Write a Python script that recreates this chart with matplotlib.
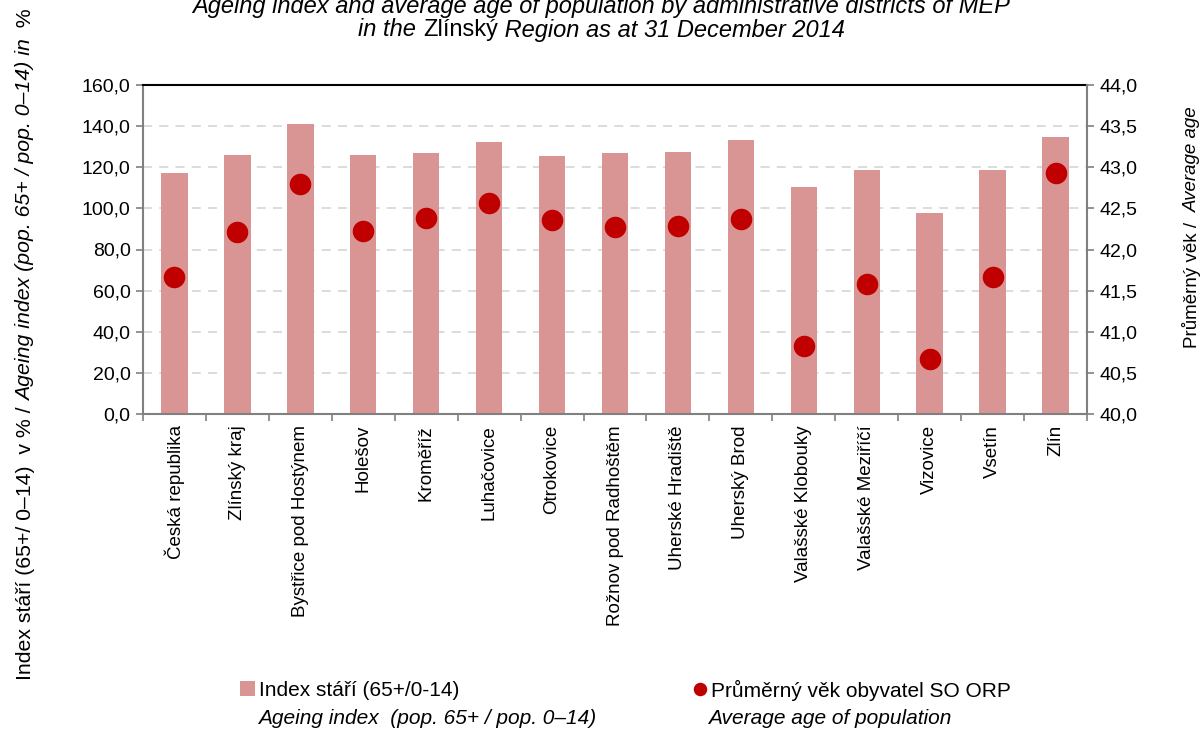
import numpy as np
import matplotlib
matplotlib.use("Agg")
import matplotlib.pyplot as plt
from matplotlib.ticker import FuncFormatter, MultipleLocator

plt.rcParams['font.family'] = ['Liberation Sans', 'DejaVu Sans']

# data
districts = ["Česká republika", "Zlínský kraj", "Bystřice pod Hostýnem", "Holešov",
             "Kroměříž", "Luhačovice", "Otrokovice", "Rožnov pod Radhoštěm",
             "Uherské Hradiště", "Uherský Brod", "Valašské Klobouky",
             "Valašské Meziříčí", "Vizovice", "Vsetín", "Zlín"]
ageing_index = [117.4, 126.1, 140.9, 126.1, 127.1, 132.1, 125.3, 127.1,
                127.2, 133.1, 110.6, 118.5, 97.8, 118.5, 134.9]
average_age = [41.67, 42.21, 42.80, 42.22, 42.38, 42.57, 42.36, 42.27,
               42.29, 42.37, 40.83, 41.58, 40.67, 41.67, 42.93]

bar_color = "#D99594"
dot_color = "#C00000"
gray = "#808080"


def comma(v, pos):
    return f"{v:.1f}".replace(".", ",")


fig = plt.figure(figsize=(12.03, 7.29), dpi=100)
ax = fig.add_axes([143/1203, 1 - 414/729, (1087-143)/1203, (414-85)/729])
ax2 = ax.twinx()

x = np.arange(len(districts))
bars = ax.bar(x, ageing_index, width=0.42, color=bar_color, zorder=2,
              label="Index stáří (65+/0-14)")
dots, = ax2.plot(x, average_age, "o", color=dot_color, markersize=14.5,
                 linestyle="none", zorder=3, label="Průměrný věk obyvatel SO ORP")

ax.set_xlim(-0.5, len(districts) - 0.5)
ax.set_ylim(0, 160)
ax.yaxis.set_major_locator(MultipleLocator(20))
ax.yaxis.set_major_formatter(FuncFormatter(comma))
ax2.set_ylim(40, 44)
ax2.yaxis.set_major_locator(MultipleLocator(0.5))
ax2.yaxis.set_major_formatter(FuncFormatter(comma))

ax.grid(axis="y", color="#D9D9D9", linestyle=(0, (5, 4)), linewidth=1.3, zorder=0)
ax.set_axisbelow(True)

ax.set_xticks(x)
ax.set_xticklabels(districts, rotation=90, fontsize=13.5)
ax.set_xticks(np.arange(-0.5, len(districts)), minor=True)
ax.tick_params(axis="x", which="major", length=0, pad=8)
ax.tick_params(axis="x", which="minor", length=5, width=1.2, color=gray)
ax.tick_params(axis="y", length=5, width=1.2, color=gray, labelsize=14, pad=4)
ax2.tick_params(axis="y", length=5, width=1.2, color=gray, labelsize=14, pad=4)

for s in ["left", "bottom"]:
    ax.spines[s].set_color(gray)
    ax.spines[s].set_linewidth(1.5)
ax.spines["top"].set_color("black")
ax.spines["top"].set_linewidth(1.5)
ax.spines["right"].set_visible(False)
for s in ["left", "bottom", "top"]:
    ax2.spines[s].set_visible(False)
ax2.spines["right"].set_color(gray)
ax2.spines["right"].set_linewidth(1.5)

fig.canvas.draw()
renderer = fig.canvas.get_renderer()


def mixed_h(pieces, yc, size):
    """horizontal line of text pieces (text, style) centred on the figure"""
    texts = [fig.text(0, yc, t, style=st, fontsize=size, va="center", ha="left")
             for t, st in pieces]
    widths = [tt.get_window_extent(renderer).width for tt in texts]
    x0 = (fig.bbox.width - sum(widths)) / 2
    for tt, w in zip(texts, widths):
        tt.set_x(x0 / fig.bbox.width)
        x0 += w


def mixed_v(pieces, xc, yc, size):
    """vertical text from pieces, centred at yc (pixels)"""
    texts = [fig.text(xc / fig.bbox.width, 0, t, style=st, fontsize=size,
                      rotation=90, rotation_mode="anchor", va="baseline", ha="left")
             for t, st in pieces]
    heights = [tt.get_window_extent(renderer).height for tt in texts]
    y0 = yc - sum(heights) / 2
    for tt, h in zip(texts, heights):
        tt.set_y(y0 / fig.bbox.height)
        y0 += h


# title
fig.text(0.5, 1 - 7/729, "Ageing index and average age of population by administrative districts of MEP",
         style="italic", fontsize=17, ha="center", va="center")
mixed_h([("in the ", "italic"), ("Zlínský", "normal"),
         (" Region as at 31 December 2014", "italic")], 1 - 30/729, 17)

# axis titles
mixed_v([("Index stáří (65+/ 0–14)  v % / ", "normal"),
         ("Ageing index (pop. 65+ / pop. 0–14) in", "italic"),
         ("  %", "normal")], 31, 729 - 344, 15.3)
mixed_v([("Průměrný věk /  ", "normal"), ("Average age", "italic")],
        1197, 729 - 227, 13.5)

# legend
leg_kw = dict(loc="center left", frameon=False, fontsize=15, handlelength=0.72,
              handleheight=0.72, handletextpad=0.2, borderaxespad=0, borderpad=0)
fig.legend(handles=[bars], bbox_to_anchor=(240/1203, 1 - 690/729), **leg_kw)
fig.legend(handles=[dots], bbox_to_anchor=(692/1203, 1 - 690/729),
           markerscale=0.6, **leg_kw)
fig.text(258/1203, 1 - 718/729, "Ageing index  (pop. 65+ / pop. 0–14)",
         style="italic", fontsize=15, ha="left", va="center")
fig.text(708/1203, 1 - 718/729, "Average age of population",
         style="italic", fontsize=15, ha="left", va="center")

fig.savefig("out.png", dpi=100)
